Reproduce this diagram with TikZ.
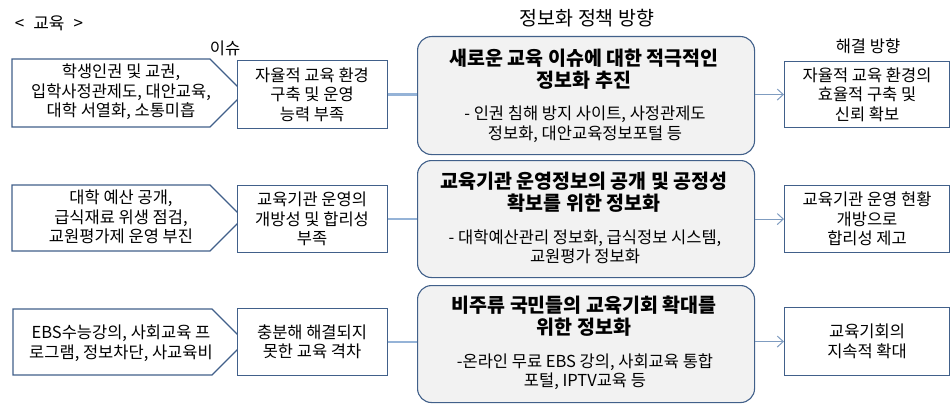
\documentclass[tikz,border=0pt]{standalone}
\usepackage{fontspec}
\setmainfont{Noto Sans CJK KR}
\usetikzlibrary{arrows.meta}
\definecolor{bord}{HTML}{41608A}
\definecolor{conn}{HTML}{95B3D7}
\definecolor{arr}{HTML}{7F9CC0}
\definecolor{cfill}{HTML}{F2F2F2}
\begin{document}
\begin{tikzpicture}[x=1pt,y=-1pt,
  txt/.style={font=\fontsize{16.5}{19.5}\selectfont, align=center, inner sep=0pt, text=black},
  ttl/.style={font=\fontsize{19.5}{22}\selectfont\bfseries, align=center, inner sep=0pt, text=black},
  sqbox/.style={draw=bord, line width=1.1pt, fill=white, anchor=north west, align=center,
    inner sep=0pt, font=\fontsize{16.5}{19.5}\selectfont},
  rbox/.style={draw=bord, line width=1.1pt, fill=cfill, rounded corners=14pt, anchor=north west, inner sep=0pt},
  pent/.style={draw=bord, line width=1.1pt, fill=white},
  conn/.style={draw=conn, line width=2.2pt},
  arrw/.style={draw=arr, line width=1pt, -{Straight Barb[length=6pt,width=11pt]}}
]
\useasboundingbox (0,0) rectangle (951,404);

% headers
\node[txt, font=\fontsize{17}{20}\selectfont] (hd) at (49,23) {<\hspace{9pt}교육\hspace{9pt}>};
\node[txt] (iss) at (225,48) {이슈};
\node[txt, font=\fontsize{19.5}{22}\selectfont] (pol) at (587,18) {정보화 정책 방향};
\node[txt] (sol) at (868,46) {해결 방향};

% pentagons (left)
\draw[pent] (12,59) -- (210,59) -- (244,93) -- (210,127) -- (12,127) -- cycle;
\draw[pent] (12,185) -- (210,185) -- (243,218) -- (210,251) -- (12,251) -- cycle;
\draw[pent] (13,309) -- (212,309) -- (245,342) -- (212,375) -- (13,375) -- cycle;
\node[txt] (l1) at (121,92) {학생인권 및 교권,\\입학사정관제도, 대안교육,\\대학 서열화, 소통미흡};
\node[txt] (l2) at (121,217) {대학 예산 공개,\\급식재료 위생 점검,\\교원평가제 운영 부진};
\node[txt] (l3) at (121,343) {EBS수능강의, 사회교육 프\\로그램, 정보차단, 사교육비};

% issue boxes
\node[sqbox, minimum width=150pt, minimum height=68pt] (b1) at (236.5,60) {자율적 교육 환경\\구축 및 운영\\능력 부족};
\node[sqbox, minimum width=150pt, minimum height=67pt] (b2) at (236.5,185) {교육기관 운영의\\개방성 및 합리성\\부족};
\node[sqbox, minimum width=150pt, minimum height=67pt] (b3) at (236.5,308) {충분해 해결되지\\못한 교육 격차};

% policy boxes
\node[rbox, minimum width=337pt, minimum height=118pt] (c1) at (417,36) {};
\node[rbox, minimum width=337pt, minimum height=117pt] (c2) at (417,160) {};
\node[rbox, minimum width=337pt, minimum height=117pt] (c3) at (417,285) {};
\node[ttl] (c1t) at (584,69.5) {새로운 교육 이슈에 대한 적극적인\\정보화 추진};
\node[txt] (c1s) at (585,124) {- 인권 침해 방지 사이트, 사정관제도\\정보화, 대안교육정보포털 등};
\node[ttl] (c2t) at (584,192.5) {교육기관 운영정보의 공개 및 공정성\\확보를 위한 정보화};
\node[txt] (c2s) at (585,247) {- 대학예산관리 정보화, 급식정보 시스템,\\교원평가 정보화};
\node[ttl] (c3t) at (584,316.5) {비주류 국민들의 교육기회 확대를\\위한 정보화};
\node[txt] (c3s) at (585,371.5) {-온라인 무료 EBS 강의, 사회교육 통합\\포털, IPTV교육 등};

% solution boxes
\node[sqbox, minimum width=165pt, minimum height=66pt] (r1) at (784,61) {자율적 교육 환경의\\효율적 구축 및\\신뢰 확보};
\node[sqbox, minimum width=165pt, minimum height=67pt] (r2) at (784,185) {교육기관 운영 현황\\개방으로\\합리성 제고};
\node[sqbox, minimum width=165pt, minimum height=68pt] (r3) at (784,307) {교육기회의\\지속적 확대};

% connectors
\draw[conn] (b1.east) -- (b1.east -| c1.west);
\draw[conn] (b2.east) -- (b2.east -| c2.west);
\draw[conn] (b3.east) -- (b3.east -| c3.west);
\draw[arrw] (r1.west -| c1.east) -- (r1.west);
\draw[arrw] (r2.west -| c2.east) -- (r2.west);
\draw[arrw] (r3.west -| c3.east) -- (r3.west);
\end{tikzpicture}
\end{document}
